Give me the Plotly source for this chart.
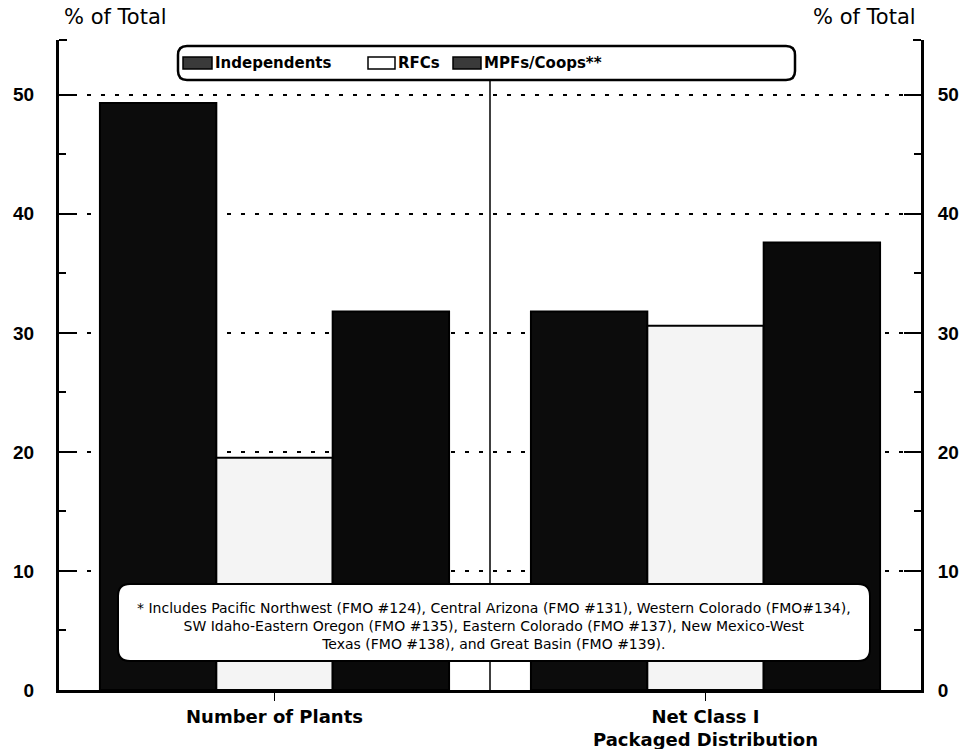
import plotly.graph_objects as go

categories = ["Number of Plants", "Net Class I<br>Packaged Distribution"]
independents = [49.3, 31.8]
rfcs = [19.5, 30.6]
mpfs = [31.8, 37.6]
series_names = ["Independents", "RFCs", "MPFs/Coops**"]
y_ticks = [0, 10, 20, 30, 40, 50]
footnote = ("* Includes Pacific Northwest (FMO #124), Central Arizona (FMO #131), Western Colorado (FMO#134),<br>"
            "SW Idaho-Eastern Oregon (FMO #135), Eastern Colorado (FMO #137), New Mexico-West<br>"
            "Texas (FMO #138), and Great Basin (FMO #139).")

W, H = 966, 749
L, R, T, B = 59, 921, 40, 690
YMAX = 54.6

def px(x):
    return (x - L) / (R - L)

def py(y):
    return (B - y) / (B - T)

def rounded(x0, y0, x1, y1, r):
    X0, X1 = px(x0), px(x1)
    Y0, Y1 = py(y0), py(y1)
    rx = r / (R - L)
    ry = r / (B - T)
    return (f"M {X0+rx},{Y0} L {X1-rx},{Y0} Q {X1},{Y0} {X1},{Y0-ry} "
            f"L {X1},{Y1+ry} Q {X1},{Y1} {X1-rx},{Y1} L {X0+rx},{Y1} "
            f"Q {X0},{Y1} {X0},{Y1+ry} L {X0},{Y0-ry} Q {X0},{Y0} {X0+rx},{Y0} Z")

fig = go.Figure()
fills = ["#0c0c0c", "#f4f4f4", "#0a0a0a"]
for name, vals, col in zip(series_names, [independents, rfcs, mpfs], fills):
    fig.add_trace(go.Bar(x=categories, y=vals, name=name, marker=dict(color=col, line=dict(color="black", width=2)),
                         showlegend=False))
fig.add_trace(go.Scatter(x=categories, y=[0, 0], yaxis="y2", mode="markers", marker=dict(opacity=0),
                         showlegend=False, hoverinfo="skip"))

axis_common = dict(range=[0, YMAX], tickvals=y_ticks, showgrid=True, gridcolor="black", gridwidth=2,
                   griddash="4px,10px", showline=True, linecolor="black", linewidth=3,
                   ticks="inside", ticklen=17, tickwidth=2, tickcolor="black",
                   minor=dict(dtick=5, ticks="inside", ticklen=7, tickwidth=2, tickcolor="black", showgrid=False),
                   tickfont=dict(family="Liberation Sans, Arial", size=19, color="black", weight="bold"),
                   zeroline=False, fixedrange=True, automargin=False)

fig.update_layout(
    width=W, height=H,
    margin=dict(l=L, r=W - R, t=T, b=H - B),
    paper_bgcolor="white", plot_bgcolor="white",
    barmode="group", bargap=0.19, bargroupgap=0,
    xaxis=dict(showline=True, linecolor="black", linewidth=3, ticks="outside", ticklen=8, tickwidth=1,
               tickcolor="black", automargin=False,
               tickfont=dict(family="DejaVu Sans", size=18, color="black", weight="bold"),
               range=[-0.5, 1.5]),
    yaxis=dict(**axis_common, ticklabelstandoff=18),
    yaxis2=dict(**axis_common, overlaying="y", side="right", ticklabelstandoff=10),
)

shapes = []
shapes.append(dict(type="line", xref="x", yref="y", x0=0.5, x1=0.5, y0=0, y1=51.2,
                   line=dict(color="black", width=1.5)))
shapes.append(dict(type="line", xref="paper", yref="paper", x0=0, x1=px(L + 8), y0=1, y1=1,
                   line=dict(color="black", width=2)))
shapes.append(dict(type="line", xref="paper", yref="paper", x0=1, x1=px(R - 8), y0=1, y1=1,
                   line=dict(color="black", width=2)))
shapes.append(dict(type="path", xref="paper", yref="paper", path=rounded(178, 46, 795, 80, 9),
                   fillcolor="white", line=dict(color="black", width=2.5), layer="above"))
shapes.append(dict(type="path", xref="paper", yref="paper", path=rounded(118, 584, 870, 661, 12),
                   fillcolor="white", line=dict(color="black", width=2), layer="above"))

annotations = []
leg = [(183, 212, "#3a3a3a"), (368, 395, "white"), (453, 481, "#3a3a3a")]
for (x0, x1, c), name in zip(leg, series_names):
    shapes.append(dict(type="rect", xref="paper", yref="paper", x0=px(x0), x1=px(x1), y0=py(69), y1=py(57),
                       fillcolor=c, line=dict(color="black", width=1.5), layer="above"))
    annotations.append(dict(x=px(x1 + 1), y=py(63), xref="paper", yref="paper", text=name, showarrow=False,
                            xanchor="left", yanchor="middle",
                            font=dict(family="DejaVu Sans", size=15, color="black", weight="bold")))

annotations.append(dict(x=px(494), y=py(626), xref="paper", yref="paper", text=footnote, showarrow=False,
                        xanchor="center", yanchor="middle", align="center",
                        font=dict(family="DejaVu Sans", size=14, color="black")))
annotations.append(dict(x=px(62), y=py(17), xref="paper", yref="paper", text="% of Total", showarrow=False,
                        xanchor="left", yanchor="middle",
                        font=dict(family="DejaVu Sans", size=21, color="black")))
annotations.append(dict(x=px(918), y=py(17), xref="paper", yref="paper", text="% of Total", showarrow=False,
                        xanchor="right", yanchor="middle",
                        font=dict(family="DejaVu Sans", size=21, color="black")))

fig.update_layout(shapes=shapes, annotations=annotations)
fig.write_html("out.html", config={"displayModeBar": False})

# remove the default page margin so the figure sits at the window's top-left corner
with open("out.html", encoding="utf-8") as f:
    html = f.read()
html = html.replace("<body>", '<body style="margin:0;padding:0;">', 1)
with open("out.html", "w", encoding="utf-8") as f:
    f.write(html)
